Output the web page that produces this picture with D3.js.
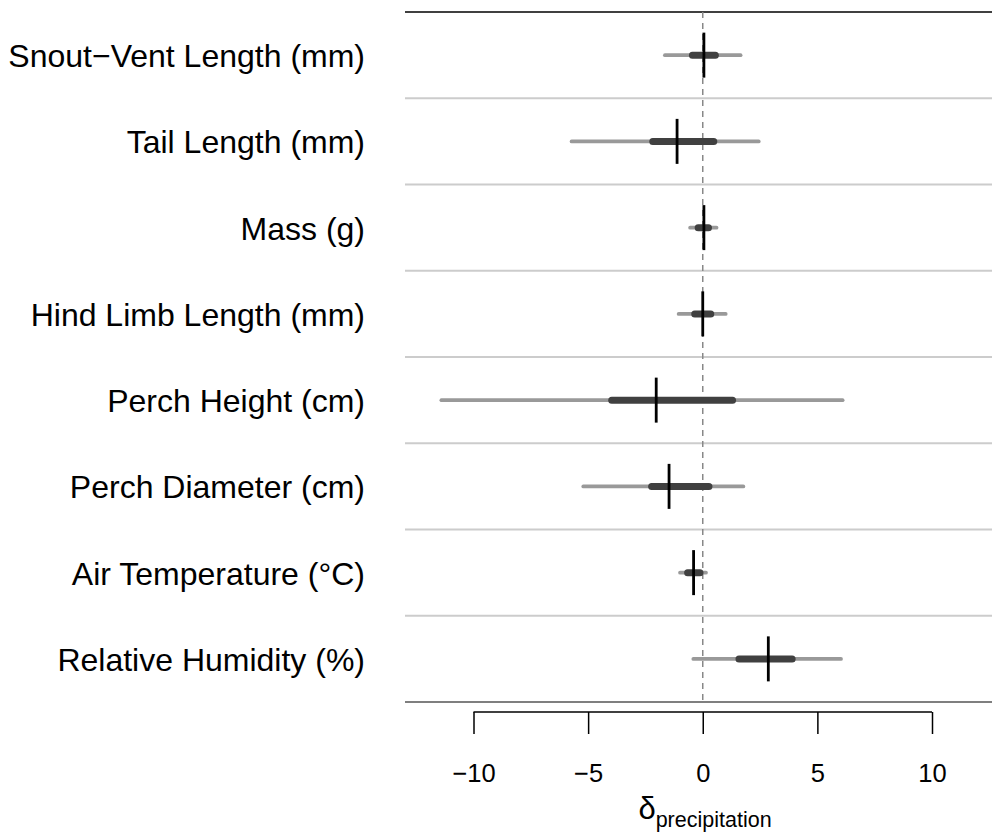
<!DOCTYPE html>
<html>
<head>
<meta charset="utf-8">
<script src="https://cdn.jsdelivr.net/npm/d3@7/dist/d3.min.js"></script>
<style>
  body { margin: 0; background: #fff; }
  svg { display: block; font-family: "Liberation Sans", Arial, Helvetica, sans-serif; }
</style>
</head>
<body>
<svg id="chart" width="992" height="833"></svg>
<script>
(function () {

// row labels, top to bottom
var traits = [
	"Snout\u2212Vent Length (mm)",
	"Tail Length (mm)",
	"Mass (g)",
	"Hind Limb Length (mm)",
	"Perch Height (cm)",
	"Perch Diameter (cm)",
	"Air Temperature (\u00b0C)",
	"Relative Humidity (%)"
];

// posterior summaries for delta_precipitation
var medians  = [0.05, -1.12, 0.05, 0.0, -2.03, -1.47, -0.40, 2.86];
var innerLo  = [-0.45, -2.18, -0.20, -0.35, -3.97, -2.23, -0.66, 1.58];
var innerHi  = [0.55, 0.48, 0.25, 0.35, 1.30, 0.27, -0.12, 3.90];
var outerLo  = [-1.65, -5.72, -0.55, -1.05, -11.40, -5.21, -0.99, -0.41];
var outerHi  = [1.65, 2.44, 0.60, 1.00, 6.10, 1.77, 0.14, 6.03];

var xTicks = [-10, -5, 0, 5, 10];

var svg = d3.select('#chart');
var W = 992;
var plotLeft = 405, plotTop = 12, plotBottom = 702;

var x = d3.scaleLinear().domain([-10, 10]).range([473.5, 932]);
var y = d3.scaleBand().domain(traits).range([plotTop, plotBottom]).padding(0);
var half = y.bandwidth() / 2;

var rows = traits.map(function (t, i) {
	return { label: t, med: medians[i], ilo: innerLo[i], ihi: innerHi[i], olo: outerLo[i], ohi: outerHi[i] };
});

// row separators
svg.append('g').selectAll('line')
	.data(traits.slice(1))
	.enter().append('line')
	.attr('x1', plotLeft).attr('x2', W)
	.attr('y1', function (d) { return y(d); })
	.attr('y2', function (d) { return y(d); })
	.attr('stroke', '#cccccc').attr('stroke-width', 2);

// top and bottom rules
svg.append('line')
	.attr('x1', plotLeft).attr('x2', W)
	.attr('y1', plotTop).attr('y2', plotTop)
	.attr('stroke', '#000').attr('stroke-width', 1.3);
svg.append('line')
	.attr('x1', plotLeft).attr('x2', W)
	.attr('y1', plotBottom).attr('y2', plotBottom)
	.attr('stroke', '#555').attr('stroke-width', 1.3);

// zero reference
svg.append('line')
	.attr('x1', x(0)).attr('x2', x(0))
	.attr('y1', plotTop).attr('y2', plotBottom)
	.attr('stroke', '#888').attr('stroke-width', 1.5)
	.attr('stroke-dasharray', '6,5');

var g = svg.append('g').selectAll('g')
	.data(rows)
	.enter().append('g');

// outer interval
g.append('line')
	.attr('x1', function (d) { return x(d.olo); })
	.attr('x2', function (d) { return x(d.ohi); })
	.attr('y1', function (d) { return y(d.label) + half; })
	.attr('y2', function (d) { return y(d.label) + half; })
	.attr('stroke', '#999').attr('stroke-width', 3.8)
	.attr('stroke-linecap', 'round');

// inner interval
g.append('line')
	.attr('x1', function (d) { return x(d.ilo); })
	.attr('x2', function (d) { return x(d.ihi); })
	.attr('y1', function (d) { return y(d.label) + half; })
	.attr('y2', function (d) { return y(d.label) + half; })
	.attr('stroke', '#404040').attr('stroke-width', 7)
	.attr('stroke-linecap', 'round');

// median
g.append('line')
	.attr('x1', function (d) { return x(d.med); })
	.attr('x2', function (d) { return x(d.med); })
	.attr('y1', function (d) { return y(d.label) + half - 22.5; })
	.attr('y2', function (d) { return y(d.label) + half + 22.5; })
	.attr('stroke', '#000').attr('stroke-width', 2.8);

// row labels
g.append('text')
	.attr('x', 365)
	.attr('y', function (d) { return y(d.label) + half + 12; })
	.attr('text-anchor', 'end')
	.attr('font-size', 32)
	.attr('fill', '#000')
	.text(function (d) { return d.label; });

// x axis
var axis = d3.axisBottom(x)
	.tickValues(xTicks)
	.tickSize(22)
	.tickPadding(30)
	.tickFormat(function (d) { return d < 0 ? '\u2212' + Math.abs(d) : d; });

var ax = svg.append('g')
	.attr('transform', 'translate(0,712)')
	.call(axis);
ax.select('.domain').attr('stroke', '#000').attr('stroke-width', 1.5)
	.attr('d', 'M' + x(-10) + ',0H' + x(10));
ax.selectAll('.tick line').attr('stroke', '#000').attr('stroke-width', 1.5);
ax.selectAll('.tick text')
	.attr('font-size', 25.5)
	.attr('fill', '#000')
	.attr('font-family', '"Liberation Sans", Arial, sans-serif');

// axis title: delta with subscript
var title = svg.append('text')
	.attr('x', 705)
	.attr('y', 819)
	.attr('text-anchor', 'middle')
	.attr('fill', '#000');
title.append('tspan').attr('font-size', 31).text('\u03b4');
title.append('tspan').attr('font-size', 21.5).attr('dy', 8).text('precipitation');

})();
</script>
</body>
</html>
